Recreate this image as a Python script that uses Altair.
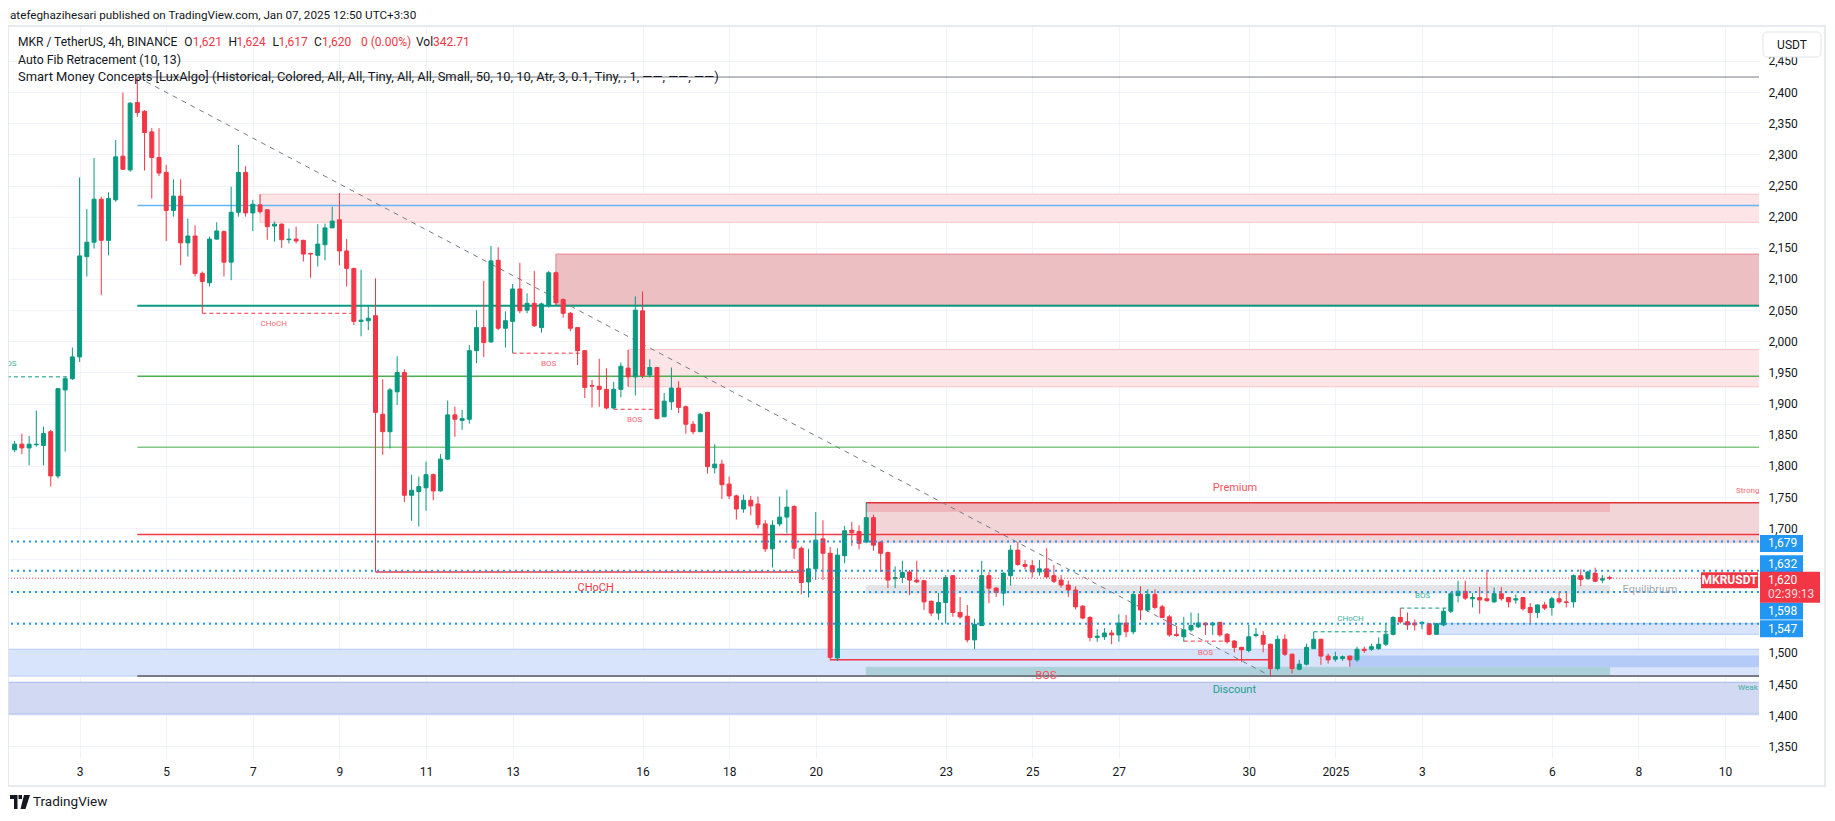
import altair as alt
import pandas as pd

GREEN = "#089981"
RED = "#f23645"
FONT = "Roboto"

# ---------------- data ----------------
# 4h candles; index k counted from the 3 Dec 2024 00:00 candle (k = 0)
first_k = -9
opens = [
    1826, 1835, 1829, 1834, 1833, 1855, 1784, 1922, 1940, 1975,
    2136, 2159, 2228, 2162, 2227, 2297, 2275, 2383, 2369, 2336,
    2295, 2271, 2210, 2233, 2158, 2169, 2109, 2094, 2164, 2176,
    2127, 2207, 2271, 2206, 2219, 2211, 2185, 2188, 2163, 2164,
    2162, 2141, 2138, 2155, 2182, 2195, 2145, 2117, 2032, 2033,
    2041, 1883, 1855, 1919, 1950, 1753, 1759, 1765, 1786, 1760,
    1811, 1882, 1873, 1875, 1985, 2022, 1999, 2130, 2021, 2032,
    2084, 2050, 2061, 2022, 2058, 2110, 2067, 2045, 2022, 1985,
    1929, 1928, 1923, 1893, 1923, 1957, 1943, 2049, 1946, 1958,
    1879, 1903, 1925, 1895, 1867, 1855, 1886, 1797, 1803, 1771,
    1752, 1731, 1745, 1739, 1707, 1667, 1707, 1718, 1735, 1668,
    1614, 1635, 1683, 1660, 1492, 1656, 1697, 1695, 1678, 1717,
    1678, 1661, 1619, 1621, 1630, 1617, 1616, 1583, 1564, 1581,
    1624, 1565, 1559, 1521, 1544, 1624, 1604, 1596, 1624, 1665,
    1642, 1640, 1630, 1635, 1624, 1617, 1609, 1601, 1575, 1557,
    1525, 1526, 1532, 1529, 1548, 1534, 1594, 1569, 1594, 1574,
    1558, 1530, 1526, 1537, 1542, 1548, 1545, 1549, 1530, 1519,
    1509, 1504, 1528, 1528, 1514, 1475, 1522, 1498, 1474, 1482,
    1507, 1522, 1495, 1490, 1491, 1495, 1489, 1506, 1506, 1507,
    1514, 1530, 1557, 1550, 1548, 1547, 1547, 1530, 1545, 1567,
    1592, 1599, 1587, 1589, 1587, 1582, 1595, 1589, 1585, 1589,
    1573, 1565, 1577, 1573, 1587, 1582, 1582, 1624, 1619, 1628,
    1617, 1621,
]
highs = [
    1840, 1852, 1848, 1889, 1863, 1858, 1925, 1943, 1990, 2263,
    2212, 2294, 2232, 2239, 2323, 2399, 2384, 2424, 2371, 2342,
    2342, 2283, 2260, 2260, 2197, 2186, 2112, 2168, 2191, 2178,
    2248, 2315, 2281, 2227, 2236, 2212, 2192, 2189, 2181, 2184,
    2163, 2142, 2188, 2189, 2216, 2238, 2164, 2118, 2115, 2056,
    2101, 1939, 1925, 1976, 1955, 1786, 1783, 1807, 1788, 1819,
    1905, 1895, 1890, 1994, 2050, 2097, 2153, 2151, 2048, 2092,
    2126, 2077, 2113, 2062, 2113, 2112, 2069, 2047, 2023, 1986,
    1938, 1972, 1957, 1935, 1966, 1986, 2072, 2080, 1971, 1958,
    1917, 1958, 1936, 1897, 1872, 1885, 1887, 1835, 1810, 1783,
    1754, 1754, 1752, 1751, 1713, 1713, 1751, 1762, 1737, 1671,
    1667, 1726, 1713, 1670, 1668, 1704, 1710, 1705, 1741, 1722,
    1679, 1663, 1639, 1648, 1633, 1648, 1617, 1584, 1596, 1625,
    1625, 1590, 1577, 1555, 1648, 1630, 1606, 1630, 1673, 1678,
    1649, 1649, 1649, 1668, 1641, 1625, 1616, 1607, 1577, 1559,
    1538, 1540, 1537, 1562, 1561, 1596, 1607, 1602, 1602, 1577,
    1561, 1543, 1558, 1565, 1564, 1549, 1550, 1550, 1532, 1521,
    1510, 1545, 1540, 1535, 1515, 1528, 1530, 1499, 1489, 1515,
    1534, 1523, 1499, 1502, 1496, 1496, 1510, 1510, 1515, 1525,
    1548, 1559, 1572, 1565, 1554, 1551, 1548, 1548, 1572, 1598,
    1616, 1616, 1596, 1606, 1633, 1605, 1606, 1590, 1594, 1590,
    1580, 1578, 1582, 1590, 1598, 1598, 1626, 1634, 1632, 1637,
    1625, 1624,
]
lows = [
    1822, 1819, 1801, 1831, 1801, 1767, 1780, 1823, 1938, 1967,
    2104, 2149, 2074, 2138, 2224, 2275, 2272, 2360, 2274, 2229,
    2265, 2161, 2200, 2122, 2136, 2104, 2045, 2088, 2163, 2104,
    2098, 2200, 2200, 2177, 2205, 2163, 2160, 2150, 2157, 2157,
    2128, 2102, 2120, 2130, 2182, 2122, 2088, 2026, 2008, 2018,
    1630, 1818, 1828, 1898, 1742, 1712, 1703, 1728, 1745, 1759,
    1810, 1847, 1858, 1868, 1965, 1975, 1998, 2018, 1990, 1981,
    2045, 2045, 2023, 2014, 2054, 2058, 2038, 2016, 1962, 1909,
    1894, 1895, 1891, 1891, 1910, 1927, 1913, 1941, 1942, 1875,
    1878, 1890, 1885, 1852, 1851, 1855, 1788, 1788, 1747, 1747,
    1714, 1725, 1721, 1700, 1662, 1637, 1703, 1692, 1651, 1594,
    1589, 1617, 1617, 1488, 1487, 1644, 1672, 1666, 1676, 1664,
    1630, 1604, 1604, 1612, 1593, 1612, 1569, 1559, 1553, 1547,
    1558, 1555, 1517, 1506, 1544, 1580, 1590, 1576, 1608, 1640,
    1634, 1621, 1624, 1620, 1612, 1605, 1590, 1570, 1554, 1519,
    1518, 1521, 1514, 1518, 1525, 1530, 1553, 1566, 1570, 1556,
    1526, 1526, 1518, 1534, 1540, 1529, 1529, 1526, 1515, 1501,
    1486, 1501, 1525, 1501, 1463, 1472, 1495, 1467, 1472, 1480,
    1506, 1481, 1483, 1486, 1487, 1478, 1486, 1500, 1503, 1505,
    1511, 1528, 1547, 1537, 1536, 1538, 1528, 1529, 1543, 1564,
    1581, 1585, 1573, 1563, 1582, 1580, 1584, 1573, 1579, 1568,
    1548, 1556, 1569, 1560, 1579, 1573, 1573, 1607, 1618, 1614,
    1612, 1617,
]
closes = [
    1835, 1829, 1835, 1835, 1852, 1784, 1924, 1940, 1975, 2137,
    2159, 2228, 2162, 2229, 2296, 2276, 2382, 2367, 2335, 2295,
    2270, 2210, 2233, 2158, 2169, 2109, 2096, 2164, 2177, 2127,
    2207, 2271, 2206, 2220, 2208, 2184, 2188, 2163, 2164, 2161,
    2140, 2140, 2156, 2182, 2193, 2145, 2117, 2032, 2034, 2037,
    1886, 1855, 1922, 1950, 1753, 1761, 1767, 1786, 1760, 1811,
    1882, 1875, 1876, 1985, 2022, 1998, 2129, 2021, 2033, 2084,
    2049, 2061, 2025, 2060, 2110, 2062, 2045, 2021, 1985, 1926,
    1928, 1923, 1893, 1923, 1960, 1943, 2050, 1945, 1958, 1876,
    1904, 1925, 1894, 1867, 1855, 1883, 1799, 1803, 1770, 1752,
    1731, 1745, 1736, 1706, 1667, 1705, 1718, 1734, 1668, 1613,
    1635, 1681, 1660, 1493, 1657, 1696, 1693, 1676, 1717, 1673,
    1660, 1617, 1621, 1629, 1617, 1614, 1582, 1564, 1581, 1621,
    1565, 1558, 1521, 1546, 1624, 1604, 1597, 1628, 1665, 1642,
    1639, 1630, 1635, 1622, 1615, 1609, 1601, 1574, 1556, 1525,
    1527, 1532, 1529, 1548, 1534, 1594, 1569, 1594, 1573, 1557,
    1529, 1528, 1537, 1544, 1548, 1545, 1548, 1529, 1518, 1509,
    1505, 1526, 1530, 1514, 1475, 1522, 1498, 1475, 1482, 1509,
    1522, 1495, 1489, 1494, 1494, 1489, 1506, 1504, 1510, 1514,
    1530, 1557, 1550, 1545, 1545, 1549, 1530, 1547, 1567, 1595,
    1599, 1588, 1589, 1585, 1584, 1595, 1587, 1582, 1587, 1571,
    1565, 1577, 1572, 1587, 1582, 1581, 1624, 1618, 1630, 1615,
    1619, 1620,
]

# axis ticks: days after 1 Dec 2024, and prices
day_ticks = [2, 4, 6, 8, 10, 12, 15, 17, 19, 22, 24, 26, 29, 31, 33, 36, 38, 40]
price_ticks = list(range(1350, 2451, 50))
hidden_price_labels = [1550, 1600, 1650]   # covered by the price tags

# Auto Fib Retracement levels (start at the k=8 high)
fib_start_k = 8
fib_prices = [2424, 2218, 2057, 1944, 1830, 1690, 1463]
fib_colors = ["#787b86", "#64b5f6", "#089981", "#4caf50", "#81c784", "#f23645", "#787b86"]
fib_widths = [1, 1.5, 2, 1.5, 1.5, 1.5, 2]

# zones (k start, k end, low, high, fill, border); k end 240 = past the right edge
zone_k1 = [-12, -12, 176, 109, 188, 109, 109, 109, 25, 66, 76]
zone_k2 = [240, 240, 240, 212, 240, 212, 240, 212, 240, 240, 240]
zone_lo = [1402, 1463, 1478, 1463, 1530, 1596, 1677, 1727, 2191, 2058, 1927]
zone_hi = [1453, 1506, 1495, 1477, 1547, 1608, 1741, 1741, 2236, 2140, 1987]
zone_fill = ["#d1d9f3", "#d7e4fc", "#b4cbf7", "#add1db", "#d7e4fc", "#e2e3e6",
             "#f2d5d7", "#efb7bb", "#fde4e6", "#ecbfc2", "#fde4e6"]
zone_line = ["#a9b8ea", "#b6cbf6", "#b4cbf7", "#add1db", "#b6cbf6", "#e2e3e6",
             "#f2d5d7", "#efb7bb", "#f8c4c8", "#e08a91", "#f8c4c8"]

# solid structure lines
solid_k1 = [41, 104, 109]
solid_k2 = [100, 165, 240]
solid_p = [1630, 1489, 1741]
solid_col = ["#f23645", "#f23645", "#e0303c"]

# dashed internal-structure lines
dash_k1 = [17, 60, 74, -12, 153, 171, 183]
dash_k2 = [38, 70, 80, -1, 160, 182, 190]
dash_p = [2045, 1981, 1891, 1943, 1519, 1534, 1572]
dash_col = ["#f23645", "#f23645", "#f23645", "#089981", "#f23645", "#089981", "#089981"]

# trend line of the fib (high -> low)
trend_k = [8, 165]
trend_p = [2424, 1463]

# dotted horizontal lines and last price
dotted_p = [1679, 1632, 1598, 1547]
last_price = 1620

# labels inside the pane (k position, price, text, colour, size)
lab_k = [26.9, 65.0, 76.9, -9.8, 71.5, 133.9, 156.0, 176.1, 186.1, 160.1, 160.0]
lab_p = [2028, 1964, 1874, 1964, 1605, 1463, 1500, 1554, 1592, 1765, 1441]
lab_s = ["CHoCH", "BOS", "BOS", "BOS", "CHoCH", "BOS", "BOS", "CHoCH", "BOS", "Premium", "Discount"]
lab_c = ["#f46a75", "#f46a75", "#f46a75", "#3bb09c", "#f23645", "#f2545e", "#f46a75",
         "#3bb09c", "#3bb09c", "#f2545e", "#22a08c"]
lab_z = [8, 8, 8, 8, 11, 11, 8, 8, 8, 11, 11]
left_k = [213.8, 229.5, 229.8]
left_p = [1601, 1760, 1444]
left_s = ["Equilibrium", "Strong High", "Weak Low"]
left_c = ["#a3a6af", "#f46a75", "#3bb09c"]
left_z = [11, 8, 8]

# price axis tags: value, pixel shift of the tag
tag_p = [1679, 1632, 1598, 1547]
tag_shift = [2, -7, 19, 5]


def tk(k):
    return 2 + k / 6.0


# ---------------- build frames ----------------
candle_k = list(range(first_k, first_k + len(opens)))
cdf = pd.DataFrame({"t": [tk(k) for k in candle_k], "o": opens, "h": highs,
                    "l": lows, "c": closes})
cdf["dir"] = ["up" if c >= o else "down" for o, c in zip(opens, closes)]

zdf = pd.DataFrame({"t1": [tk(k) for k in zone_k1], "t2": [tk(k) for k in zone_k2],
                    "lo": zone_lo, "hi": zone_hi, "fill": zone_fill, "line": zone_line})
fdf = pd.DataFrame({"t1": [tk(fib_start_k)] * len(fib_prices), "t2": [tk(240)] * len(fib_prices),
                    "p": fib_prices, "col": fib_colors, "w": fib_widths})
sdf = pd.DataFrame({"t1": [tk(k) for k in solid_k1], "t2": [tk(k) for k in solid_k2],
                    "p": solid_p, "col": solid_col, "w": [1.5] * 3})
ddf = pd.DataFrame({"t1": [tk(k) for k in dash_k1], "t2": [tk(k) for k in dash_k2],
                    "p": dash_p, "col": dash_col})
trdf = pd.DataFrame({"t1": [tk(trend_k[0])], "t2": [tk(trend_k[1])],
                     "p1": [trend_p[0]], "p2": [trend_p[1]]})
dotdf = pd.DataFrame({"t1": [tk(-12)] * 4, "t2": [tk(240)] * 4, "p": dotted_p})
lpdf = pd.DataFrame({"t1": [tk(-12)], "t2": [tk(240)], "p": [last_price]})
labdf = pd.DataFrame({"t": [tk(k) for k in lab_k], "p": lab_p, "s": lab_s, "col": lab_c, "sz": lab_z})
ldf = pd.DataFrame({"t": [tk(k) for k in left_k], "p": left_p, "s": left_s, "col": left_c, "sz": left_z})
one = pd.DataFrame({"a": [0]})

# ---------------- scales & axes ----------------
xsc = alt.Scale(domain=[0.4616, 40.668], nice=False, zero=False)
ysc = alt.Scale(domain=[1331.5, 2505.9], nice=False, zero=False)
xaxis = alt.Axis(
    title=None, values=day_ticks,
    labelExpr="datum.value < 31 ? format(datum.value + 1, 'd') : (datum.value == 31 ? '2025' : format(datum.value - 30, 'd'))",
    grid=True, gridColor="#f0f3fa", gridWidth=1, domain=False, ticks=False,
    labelPadding=8, labelFont=FONT, labelFontSize=12, labelColor="#131722",
    labelFlush=False, labelOverlap=False, orient="bottom")
hidden_expr = "[" + ",".join(str(v) for v in hidden_price_labels) + "]"
yaxis = alt.Axis(
    title=None, values=price_ticks, orient="right",
    labelExpr=f"indexof({hidden_expr}, datum.value) >= 0 ? '' : format(datum.value, ',d')",
    grid=True, gridColor="#f0f3fa", gridWidth=1, domain=False, ticks=False,
    labelPadding=9, labelFont=FONT, labelFontSize=12, labelColor="#131722",
    labelOverlap=False, labelAlign="left", labelBaseline="middle")


def X(f):
    return alt.X(f + ":Q", scale=xsc, axis=xaxis)


def Y(f):
    return alt.Y(f + ":Q", scale=ysc, axis=yaxis)


cscale = alt.Scale(domain=["up", "down"], range=[GREEN, RED])

layers = []

layers.append(alt.Chart(zdf).mark_rect(clip=True, strokeWidth=1).encode(
    x=X("t1"), x2="t2", y=Y("lo"), y2="hi",
    fill=alt.Fill("fill:N", scale=None), stroke=alt.Stroke("line:N", scale=None)))

layers.append(alt.Chart(fdf).mark_rule(clip=True).encode(
    x=X("t1"), x2="t2", y=Y("p"), color=alt.Color("col:N", scale=None),
    strokeWidth=alt.StrokeWidth("w:Q", scale=None)))

layers.append(alt.Chart(sdf).mark_rule(clip=True).encode(
    x=X("t1"), x2="t2", y=Y("p"), color=alt.Color("col:N", scale=None),
    strokeWidth=alt.StrokeWidth("w:Q", scale=None)))

layers.append(alt.Chart(ddf).mark_rule(clip=True, strokeDash=[4, 3], strokeWidth=1).encode(
    x=X("t1"), x2="t2", y=Y("p"), color=alt.Color("col:N", scale=None)))

layers.append(alt.Chart(trdf).mark_rule(clip=True, strokeDash=[5, 5], strokeWidth=1, color="#787b86").encode(
    x=X("t1"), x2="t2", y=Y("p1"), y2="p2"))

# candles
layers.append(alt.Chart(cdf).mark_rule(clip=True, strokeWidth=1).encode(
    x=X("t"), y=Y("l"), y2="h", color=alt.Color("dir:N", scale=cscale, legend=None)))
layers.append(alt.Chart(cdf).mark_bar(clip=True, size=4, strokeWidth=1).encode(
    x=X("t"), y=Y("o"), y2="c",
    fill=alt.Fill("dir:N", scale=cscale, legend=None),
    stroke=alt.Stroke("dir:N", scale=cscale, legend=None)))

# drawings on top
layers.append(alt.Chart(dotdf).mark_rule(clip=True, strokeDash=[2, 4], strokeWidth=2, color="#2196f3").encode(
    x=X("t1"), x2="t2", y=Y("p")))
layers.append(alt.Chart(lpdf).mark_rule(clip=True, strokeDash=[1, 2], strokeWidth=1, color=RED).encode(
    x=X("t1"), x2="t2", y=Y("p")))

# labels in the pane
layers.append(alt.Chart(labdf).mark_text(clip=True, font=FONT, align="center", baseline="middle").encode(
    x=X("t"), y=Y("p"), text="s:N", color=alt.Color("col:N", scale=None),
    size=alt.Size("sz:Q", scale=None)))
layers.append(alt.Chart(ldf).mark_text(clip=True, font=FONT, align="left", baseline="middle").encode(
    x=X("t"), y=Y("p"), text="s:N", color=alt.Color("col:N", scale=None),
    size=alt.Size("sz:Q", scale=None)))

# symbol label on the pane edge
mk = pd.DataFrame({"p": [last_price]})
layers.append(alt.Chart(mk).mark_rule(strokeWidth=16, color=RED, yOffset=2).encode(
    x=alt.value(1693), x2=alt.value(1750), y=Y("p")))
layers.append(alt.Chart(mk).mark_text(font=FONT, fontSize=12, fontWeight="bold", color="white",
                                      align="center", baseline="middle", dy=2).encode(
    x=alt.value(1721.5), y=Y("p"), text=alt.value("MKRUSDT")))

# price axis tags
for p, sh in zip(tag_p, tag_shift):
    tdf = pd.DataFrame({"p": [p]})
    layers.append(alt.Chart(tdf).mark_rule(strokeWidth=17, color="#2196f3", yOffset=sh).encode(
        x=alt.value(1752), x2=alt.value(1795), y=Y("p")))
    layers.append(alt.Chart(tdf).mark_text(font=FONT, fontSize=12, color="white",
                                           align="left", baseline="middle", dy=sh).encode(
        x=alt.value(1760), y=Y("p"), text=alt.value(f"{p:,}")))
layers.append(alt.Chart(mk).mark_rule(strokeWidth=31, color=RED, yOffset=9).encode(
    x=alt.value(1752), x2=alt.value(1812), y=Y("p")))
layers.append(alt.Chart(mk).mark_text(font=FONT, fontSize=12, color="white",
                                      align="left", baseline="middle", dy=2).encode(
    x=alt.value(1760), y=Y("p"), text=alt.value(f"{last_price:,}")))
layers.append(alt.Chart(mk).mark_text(font=FONT, fontSize=12, color="#ffd9dc",
                                      align="left", baseline="middle", dy=16).encode(
    x=alt.value(1760), y=Y("p"), text=alt.value("02:39:13")))

# frame and USDT box
layers.append(alt.Chart(one).mark_rect(fill="white", fillOpacity=0, stroke="#e0e3eb", strokeWidth=1.5).encode(
    x=alt.value(0), x2=alt.value(1817), y=alt.value(0), y2=alt.value(760)))
layers.append(alt.Chart(one).mark_rect(fill="white", stroke="#e0e3eb", strokeWidth=1, cornerRadius=4).encode(
    x=alt.value(1755), x2=alt.value(1813), y=alt.value(6), y2=alt.value(31)))


def ptext(x, y, s, color="#131722", size=12, weight="normal", align="left"):
    return alt.Chart(one).mark_text(font=FONT, fontSize=size, fontWeight=weight, color=color,
                                    align=align, baseline="middle").encode(
        x=alt.value(x), y=alt.value(y), text=alt.value(s))


layers.append(ptext(1784, 18.5, "USDT", align="center"))
layers.append(ptext(2, -11, "atefeghazihesari published on TradingView.com, Jan 07, 2025 12:50 UTC+3:30", size=11.7))
legend_parts = [
    (10, "MKR / TetherUS, 4h, BINANCE", "#131722"),
    (176.3, "O", "#131722"), (184.7, "1,621", RED),
    (220.5, "H", "#131722"), (228.5, "1,624", RED),
    (264.5, "L", "#131722"), (270.5, "1,617", RED),
    (306, "C", "#131722"), (314, "1,620", RED), (353, "0 (0.00%)", RED),
    (408, "Vol", "#131722"), (424.9, "342.71", RED),
]
for x, s, col in legend_parts:
    layers.append(ptext(x, 16, s, color=col))
layers.append(ptext(10, 33.7, "Auto Fib Retracement (10, 13)", size=12.3))
layers.append(ptext(10, 51, "Smart Money Concepts [LuxAlgo] (Historical, Colored, All, All, Tiny, All, All, "
                             "Small, 50, 10, 10, Atr, 3, 0.1, Tiny, , 1, ——, ——, ——)", size=12.9))

# TradingView logo
logo_path = ("M-1,-0.7 H-0.25 V0.7 H-0.6 V-0.3 H-1 Z "
             "M-0.15,-0.7 H0.2 V-0.3 H-0.15 Z "
             "M0.4,-0.7 H1 L0.55,0.7 H0.05 Z")
layers.append(alt.Chart(one).mark_point(shape=logo_path, filled=True, size=400, color="#131722", opacity=1).encode(
    x=alt.value(12), y=alt.value(776)))
layers.append(ptext(25, 776, "TradingView", size=13.5))

chart = alt.layer(*layers).properties(
    width=1751, height=732,
    padding={"left": 0, "top": 18, "right": 68, "bottom": 55},
    autosize=alt.AutoSizeParams(type="none"),
    background="white",
).configure_view(strokeWidth=0)

chart.save("out.html", embed_options={"renderer": "svg", "actions": False})
